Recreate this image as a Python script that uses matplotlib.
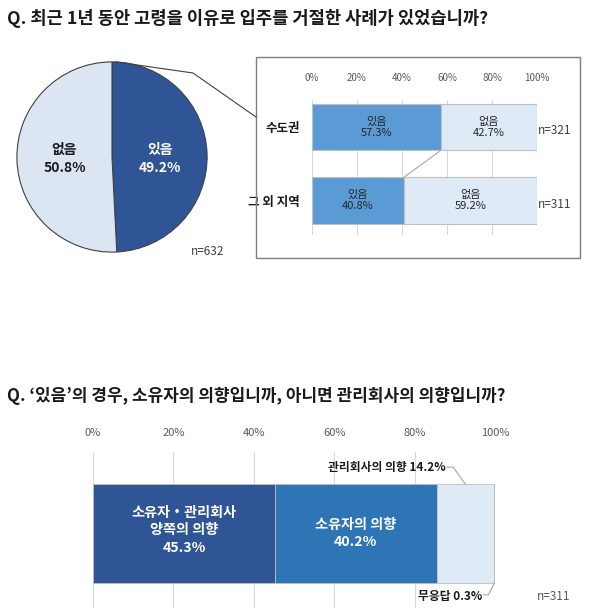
import matplotlib
matplotlib.use("Agg")
import matplotlib.pyplot as plt
from matplotlib.patches import Rectangle
from matplotlib.lines import Line2D

plt.rcParams["font.family"] = ["Noto Sans CJK KR", "DejaVu Sans"]

W, H = 600, 612

# data
pie_labels = ["있음", "없음"]
pie_values = [49.2, 50.8]
pie_n = 632

regions = ["수도권", "그 외 지역"]
region_yes = [57.3, 40.8]
region_no = [42.7, 59.2]
region_n = [321, 311]

intent_labels = ["소유자・관리회사\n양쪽의 의향", "소유자의 의향", "관리회사의 의향", "무응답"]
intent_values = [45.3, 40.2, 14.2, 0.3]
intent_n = 311

ticks = [0, 20, 40, 60, 80, 100]
tick_labels = ["0%", "20%", "40%", "60%", "80%", "100%"]

DARK = "#2F5597"
MID = "#2E75B6"
SKY = "#5B9BD5"
LIGHT = "#DEEBF7"
GRID = "#D9D9D9"
TXT = "#1A1A1A"


def px_axes(fig, left, top, width, height):
    """Axes placed by pixel box (top-left origin)."""
    return fig.add_axes([left / W, 1 - (top + height) / H, width / W, height / H])


fig = plt.figure(figsize=(W / 100, H / 100), dpi=100)

fig.text(7 / W, 1 - 18 / H, "Q. 최근 1년 동안 고령을 이유로 입주를 거절한 사례가 있었습니까?",
         fontsize=12.7, fontweight="bold", color=TXT, va="center", ha="left")
fig.text(7 / W, 1 - 396 / H, "Q. ‘있음’의 경우, 소유자의 의향입니까, 아니면 관리회사의 의향입니까?",
         fontsize=12.2, fontweight="bold", color=TXT, va="center", ha="left")

# ---- pie
ax_pie = px_axes(fig, 15, 60, 194, 194)
ax_pie.pie(pie_values, colors=[DARK, "#DCE6F2"], startangle=90, counterclock=False,
           radius=1, wedgeprops=dict(edgecolor="#404040", linewidth=0.8))
ax_pie.set_xlim(-1.02, 1.02)
ax_pie.set_ylim(-1.02, 1.02)
ax_pie.set_aspect("equal")
ax_pie.axis("off")
ax_pie.text(0.5, -0.02, f"{pie_labels[0]}\n{pie_values[0]}%", ha="center", va="center",
            fontsize=10, fontweight="bold", color="white", linespacing=1.3)
ax_pie.text(-0.5, -0.02, f"{pie_labels[1]}\n{pie_values[1]}%", ha="center", va="center",
            fontsize=10, fontweight="bold", color=TXT, linespacing=1.3)
ax_pie.text(1.0, -0.99, f"n={pie_n}", ha="center", va="center", fontsize=8.5, color="#404040")

# connector from pie top to the detail box
x0, y0 = fig.transFigure.inverted().transform(ax_pie.transData.transform((0.04, 1.0)))
fig.add_artist(Line2D([x0, 193 / W, 256 / W], [y0, 1 - 73 / H, 1 - 117 / H],
                      color="#404040", lw=0.8))

# detail box
fig.add_artist(Rectangle((256 / W, 1 - 258 / H), 324 / W, 201 / H, fill=False,
                         edgecolor="#7F7F7F", lw=1.0, transform=fig.transFigure))

# ---- regional bars
ax_r = px_axes(fig, 312, 100, 225, 135)
ypos = list(range(len(regions)))
bh = 0.63
ax_r.barh(ypos, region_yes, height=bh, color=SKY, edgecolor="#BFBFBF", lw=0.8, zorder=3)
ax_r.barh(ypos, region_no, left=region_yes, height=bh, color=LIGHT, edgecolor="#BFBFBF",
          lw=0.8, zorder=3)
ax_r.set_xlim(0, 100)
ax_r.set_ylim(1.47, -0.37)
ax_r.set_xticks(ticks)
ax_r.set_xticklabels(tick_labels, fontsize=7, color="#595959")
ax_r.xaxis.tick_top()
ax_r.tick_params(axis="x", length=0, pad=12)
ax_r.set_yticks(ypos)
ax_r.set_yticklabels(regions, fontsize=9, fontweight="bold", color=TXT)
ax_r.tick_params(axis="y", length=0, pad=9)
ax_r.grid(axis="x", color=GRID, lw=0.8, zorder=0)
for s in ax_r.spines.values():
    s.set_visible(False)
for i in ypos:
    ax_r.text(region_yes[i] / 2, i, f"있음\n{region_yes[i]}%", ha="center", va="center",
              fontsize=8, color="#262626", linespacing=1.1, zorder=4)
    ax_r.text(region_yes[i] + region_no[i] / 2, i, f"없음\n{region_no[i]}%", ha="center",
              va="center", fontsize=8, color="#262626", linespacing=1.1, zorder=4)
    ax_r.text(100.5, i + 0.05, f"n={region_n[i]}", ha="left", va="center", fontsize=8.5,
              color="#404040")
ax_r.plot([region_yes[0], region_yes[1]], [bh / 2, 1 - bh / 2], color="#A6A6A6", lw=0.8,
          zorder=2)

# ---- intent bar
ax_b = px_axes(fig, 93, 452, 402, 156)
colors_b = [DARK, MID, LIGHT, "#A6A6A6"]
left = 0
lefts = []
for v, c in zip(intent_values, colors_b):
    ax_b.barh(0, v, left=left, height=1, color=c, edgecolor="#BFBFBF", lw=0.6, zorder=3)
    lefts.append(left)
    left += v
ax_b.set_xlim(0, 100)
ax_b.set_ylim(0.753, -0.823)
ax_b.set_xticks(ticks)
ax_b.set_xticklabels(tick_labels, fontsize=8, color="#595959")
ax_b.xaxis.tick_top()
ax_b.tick_params(axis="x", length=0, pad=10)
ax_b.set_yticks([])
ax_b.grid(axis="x", color=GRID, lw=0.8, zorder=0)
for s in ax_b.spines.values():
    s.set_visible(False)

ax_b.text(lefts[0] + intent_values[0] / 2, -0.03, f"{intent_labels[0]}\n{intent_values[0]}%",
          ha="center", va="center", fontsize=10.2, fontweight="bold", color="white",
          linespacing=1.3, zorder=4)
ax_b.text(lefts[1] + intent_values[1] / 2, 0.0, f"{intent_labels[1]}\n{intent_values[1]}%",
          ha="center", va="center", fontsize=10.2, fontweight="bold", color="white",
          linespacing=1.3, zorder=4)

c2 = lefts[2] + intent_values[2] / 2
ax_b.plot([c2 - 4.5, c2 - 3, c2], [-0.67, -0.67, -0.5], color="#A6A6A6", lw=0.8,
          clip_on=False, zorder=4)
ax_b.text(c2 - 4.8, -0.67, f"{intent_labels[2]} {intent_values[2]}%", ha="right",
          va="center", fontsize=8.5, fontweight="bold", color=TXT)

c3 = lefts[3] + intent_values[3] / 2
ax_b.plot([c3 - 2.6, c3 - 1.5, c3], [0.62, 0.62, 0.5], color="#A6A6A6", lw=0.8,
          clip_on=False, zorder=4)
ax_b.text(c3 - 2.9, 0.64, f"{intent_labels[3]} {intent_values[3]}%", ha="right",
          va="center", fontsize=8.5, fontweight="bold", color=TXT)
ax_b.text(114.5, 0.64, f"n={intent_n}", ha="center", va="center", fontsize=8.5,
          color="#595959", clip_on=False)

fig.savefig("out.png", dpi=100)
